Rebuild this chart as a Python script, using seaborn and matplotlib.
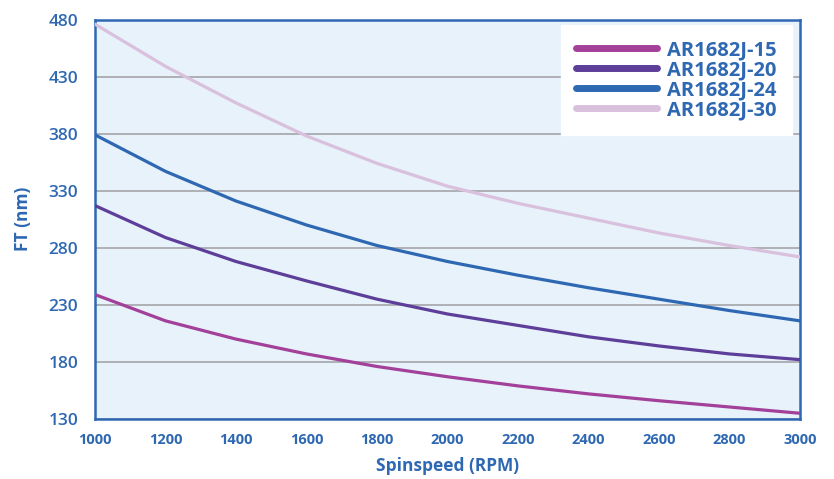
import pandas as pd
import matplotlib.pyplot as plt
import seaborn as sns

spinspeed = [1000, 1200, 1400, 1600, 1800, 2000, 2200, 2400, 2600, 2800, 3000]
ar15 = [239, 216, 200, 187, 176, 167, 159, 152, 146, 140.5, 135]
ar20 = [317, 289, 268, 251, 235, 222, 212, 202, 194, 187, 182]
ar24 = [379, 347, 321, 300, 282, 268, 256, 245, 235, 225, 216]
ar30 = [476, 439, 407, 378, 354, 334, 319, 306, 293, 282, 272]
names = ['AR1682J-15', 'AR1682J-20', 'AR1682J-24', 'AR1682J-30']
colors = ['#A3409A', '#5D3E99', '#2E68B2', '#D9C0DD']
yticks = [130, 180, 230, 280, 330, 380, 430, 480]
xticks = spinspeed

rows = []
for name, vals in zip(names, [ar15, ar20, ar24, ar30]):
    for x, y in zip(spinspeed, vals):
        rows.append({'Spinspeed (RPM)': x, 'FT (nm)': y, 'series': name})
df = pd.DataFrame(rows)

sns.set_style("white")
plt.rcParams['font.family'] = ['Open Sans', 'DejaVu Sans']
blue = '#2E68B2'

fig = plt.figure(figsize=(8.34, 4.79), dpi=100)
ax = fig.add_axes([0.1139, 0.1253, 0.8453, 0.8338])
ax.set_facecolor('#E8F2FB')

sns.lineplot(data=df, x='Spinspeed (RPM)', y='FT (nm)', hue='series',
             palette=colors, linewidth=2.3, ax=ax, zorder=3)

ax.set_xlim(1000, 3000)
ax.set_ylim(130, 480)
ax.set_xticks(xticks)
ax.set_yticks(yticks)
ax.yaxis.grid(True, color='#A4A4A9', linewidth=1.2)
ax.set_axisbelow(True)
ax.tick_params(axis='y', length=5, width=1.2, color='#A4A4A9', pad=7,
               labelsize=12.5, labelcolor=blue)
ax.tick_params(axis='x', length=0, pad=10, labelsize=10.5, labelcolor=blue)
for lab in ax.get_xticklabels():
    lab.set_fontweight('bold')
for lab in ax.get_yticklabels():
    lab.set_fontweight('semibold')
for sp in ax.spines.values():
    sp.set_color(blue)
    sp.set_linewidth(1.8)

ax.set_xlabel('Spinspeed (RPM)', color=blue, fontsize=12.5, fontweight='bold', labelpad=7)
ax.set_ylabel('FT (nm)', color=blue, fontsize=12.5, fontweight='bold', labelpad=12)

leg = ax.legend(loc='upper right', bbox_to_anchor=(0.988, 0.986), borderaxespad=0,
                frameon=True, fancybox=False, handlelength=4.0, handletextpad=0.5,
                labelspacing=0.0, borderpad=0.75, fontsize=14.5)
leg.get_frame().set_facecolor('white')
leg.get_frame().set_edgecolor('white')
leg.get_frame().set_alpha(1)
for line in leg.get_lines():
    line.set_linewidth(5)
for txt in leg.get_texts():
    txt.set_color(blue)
    txt.set_fontweight('bold')

plt.savefig('out.png', dpi=100)
